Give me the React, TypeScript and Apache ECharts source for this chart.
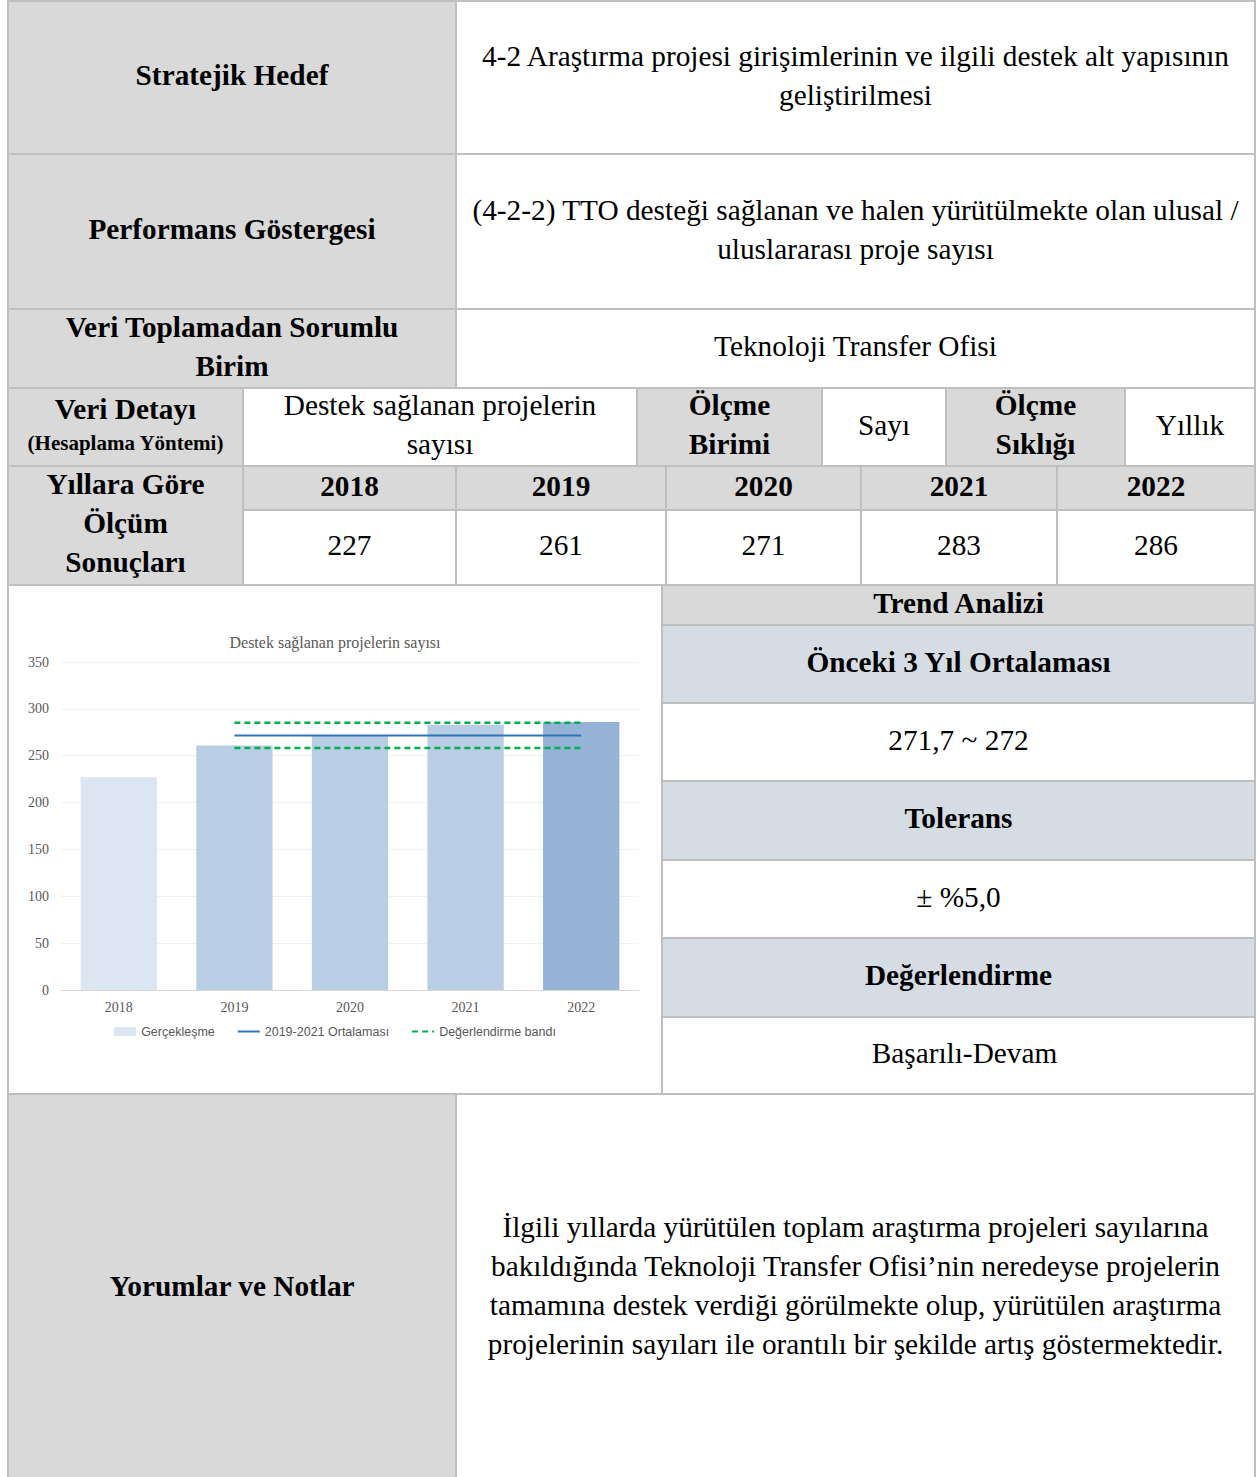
import React, { useEffect, useRef } from "react";
import * as echarts from "echarts";

// ---- Data ----
const years: string[] = ["2018", "2019", "2020", "2021", "2022"];
const realized: number[] = [227, 261, 271, 283, 286];
const average: (number | null)[] = [null, 271.7, 271.7, 271.7, 271.7];
const bandUpper: (number | null)[] = [null, 285.3, 285.3, 285.3, 285.3];
const bandLower: (number | null)[] = [null, 258.1, 258.1, 258.1, 258.1];
const yMin = 0;
const yMax = 350;
const yStep = 50;

const chartTitle = "Destek sağlanan projelerin sayısı";
const seriesNames = ["Gerçekleşme", "2019-2021 Ortalaması", "Değerlendirme bandı"];
const barColors = ["#dce6f2", "#b9cde5", "#b9cde5", "#b9cde5", "#95b3d7"];

const GREY = "#d9d9d9";
const BLUEGREY = "#d6dce4";
const BORDER = "#bfbfbf";
const SERIF = "'Liberation Serif', 'Times New Roman', serif";

type CellProps = {
  x0: number; y0: number; x1: number; y1: number;
  bg?: string; bold?: boolean; size?: number; children?: React.ReactNode;
  lh?: number;
};

function Cell({ x0, y0, x1, y1, bg = "#fff", bold = false, size = 29.3, lh = 39, children }: CellProps) {
  return (
    <div
      style={{
        position: "absolute",
        left: x0 - 1,
        top: y0 - 1,
        width: x1 - x0 + 2,
        height: y1 - y0 + 2,
        boxSizing: "border-box",
        border: `2px solid ${BORDER}`,
        paddingBottom: 4,
        background: bg,
        display: "flex",
        flexDirection: "column",
        alignItems: "center",
        justifyContent: "center",
        textAlign: "center",
        fontFamily: SERIF,
        fontWeight: bold ? 700 : 400,
        fontSize: size,
        lineHeight: `${lh}px`,
        color: "#000",
        whiteSpace: "nowrap",
      }}
    >
      {children}
    </div>
  );
}

function Chart() {
  const ref = useRef<HTMLDivElement>(null);
  useEffect(() => {
    if (!ref.current) return;
    const chart = echarts.init(ref.current, undefined, { renderer: "svg" });
    const axisText = { color: "#595959", fontFamily: SERIF, fontSize: 14 };
    const dash = { color: "#00b050", width: 2.5, type: [6, 4] };
    chart.setOption({
      animation: false,
      backgroundColor: "#ffffff",
      title: {
        text: chartTitle,
        left: "center",
        top: 43,
        textStyle: { fontFamily: SERIF, fontSize: 16, fontWeight: "normal", color: "#595959" },
      },
      grid: { left: 52, right: 22, top: 76, bottom: 103 },
      legend: {
        top: 434,
        left: "center",
        itemGap: 22,
        itemWidth: 22,
        itemHeight: 9,
        textStyle: { color: "#595959", fontFamily: "'Liberation Sans', Arial, sans-serif", fontSize: 12.5 },
        data: [
          { name: seriesNames[0], icon: "rect" },
          { name: seriesNames[1], itemStyle: { opacity: 0 } },
          { name: seriesNames[2], itemStyle: { opacity: 0 } },
        ],
      },
      xAxis: {
        type: "category",
        data: years,
        axisLine: { lineStyle: { color: "#d9d9d9", width: 1 } },
        axisTick: { show: false },
        axisLabel: { ...axisText, margin: 10 },
      },
      yAxis: {
        type: "value",
        min: yMin,
        max: yMax,
        interval: yStep,
        axisLine: { show: false },
        axisTick: { show: false },
        axisLabel: { ...axisText, margin: 12 },
        splitLine: { lineStyle: { color: "#eef2f5", width: 1 } },
      },
      series: [
        {
          type: "bar",
          name: seriesNames[0],
          data: realized.map((v, i) => ({ value: v, itemStyle: { color: barColors[i] } })),
          barWidth: "66%",
          itemStyle: { color: barColors[0] },
        },
        {
          type: "line",
          name: seriesNames[1],
          data: average,
          symbol: "none",
          lineStyle: { color: "#2e75b6", width: 2 },
          itemStyle: { color: "#2e75b6" },
        },
        {
          type: "line",
          name: seriesNames[2],
          data: bandUpper,
          symbol: "none",
          lineStyle: dash,
          itemStyle: { color: "#00b050" },
        },
        {
          type: "line",
          name: seriesNames[2],
          data: bandLower,
          symbol: "none",
          lineStyle: dash,
          itemStyle: { color: "#00b050" },
        },
      ],
    });
    return () => chart.dispose();
  }, []);
  return (
    <div
      ref={ref}
      style={{ position: "absolute", left: 9, top: 586, width: 652, height: 507, zIndex: 2 }}
    />
  );
}

export default function App() {
  return (
    <div
      style={{
        position: "absolute",
        left: 0,
        top: 0,
        width: 1258,
        height: 1477,
        overflow: "hidden",
        background: "#fff",
      }}
    >
      {/* Row 1 */}
      <Cell x0={8} y0={1} x1={456} y1={154} bg={GREY} bold>Stratejik Hedef</Cell>
      <Cell x0={456} y0={1} x1={1255} y1={154}>
        <div>4-2 Araştırma projesi girişimlerinin ve ilgili destek alt yapısının</div>
        <div>geliştirilmesi</div>
      </Cell>
      {/* Row 2 */}
      <Cell x0={8} y0={154} x1={456} y1={309} bg={GREY} bold>Performans Göstergesi</Cell>
      <Cell x0={456} y0={154} x1={1255} y1={309}>
        <div>(4-2-2) TTO desteği sağlanan ve halen yürütülmekte olan ulusal /</div>
        <div>uluslararası proje sayısı</div>
      </Cell>
      {/* Row 3 */}
      <Cell x0={8} y0={309} x1={456} y1={388} bg={GREY} bold>
        <div>Veri Toplamadan Sorumlu</div>
        <div>Birim</div>
      </Cell>
      <Cell x0={456} y0={309} x1={1255} y1={388}>Teknoloji Transfer Ofisi</Cell>
      {/* Row 4 */}
      <Cell x0={8} y0={388} x1={243} y1={466} bg={GREY} bold>
        <div style={{ lineHeight: "36px" }}>Veri Detayı</div>
        <div style={{ fontSize: 21, lineHeight: "32px" }}>(Hesaplama Yöntemi)</div>
      </Cell>
      <Cell x0={243} y0={388} x1={637} y1={466}>
        <div>Destek sağlanan projelerin</div>
        <div>sayısı</div>
      </Cell>
      <Cell x0={637} y0={388} x1={822} y1={466} bg={GREY} bold>
        <div>Ölçme</div>
        <div>Birimi</div>
      </Cell>
      <Cell x0={822} y0={388} x1={946} y1={466}>Sayı</Cell>
      <Cell x0={946} y0={388} x1={1125} y1={466} bg={GREY} bold>
        <div>Ölçme</div>
        <div>Sıklığı</div>
      </Cell>
      <Cell x0={1125} y0={388} x1={1255} y1={466}>Yıllık</Cell>
      {/* Row 5-6 */}
      <Cell x0={8} y0={466} x1={243} y1={585} bg={GREY} bold>
        <div>Yıllara Göre</div>
        <div>Ölçüm</div>
        <div>Sonuçları</div>
      </Cell>
      <Cell x0={243} y0={466} x1={456} y1={510} bg={GREY} bold>{years[0]}</Cell>
      <Cell x0={456} y0={466} x1={666} y1={510} bg={GREY} bold>{years[1]}</Cell>
      <Cell x0={666} y0={466} x1={861} y1={510} bg={GREY} bold>{years[2]}</Cell>
      <Cell x0={861} y0={466} x1={1057} y1={510} bg={GREY} bold>{years[3]}</Cell>
      <Cell x0={1057} y0={466} x1={1255} y1={510} bg={GREY} bold>{years[4]}</Cell>
      <Cell x0={243} y0={510} x1={456} y1={585}>{realized[0]}</Cell>
      <Cell x0={456} y0={510} x1={666} y1={585}>{realized[1]}</Cell>
      <Cell x0={666} y0={510} x1={861} y1={585}>{realized[2]}</Cell>
      <Cell x0={861} y0={510} x1={1057} y1={585}>{realized[3]}</Cell>
      <Cell x0={1057} y0={510} x1={1255} y1={585}>{realized[4]}</Cell>
      {/* Row 7 */}
      <Cell x0={8} y0={585} x1={662} y1={1094} />
      <Chart />
      <Cell x0={662} y0={585} x1={1255} y1={625} bg={GREY} bold>Trend Analizi</Cell>
      <Cell x0={662} y0={625} x1={1255} y1={703} bg={BLUEGREY} bold>Önceki 3 Yıl Ortalaması</Cell>
      <Cell x0={662} y0={703} x1={1255} y1={781}>271,7 ~ 272</Cell>
      <Cell x0={662} y0={781} x1={1255} y1={860} bg={BLUEGREY} bold>Tolerans</Cell>
      <Cell x0={662} y0={860} x1={1255} y1={938}>± %5,0</Cell>
      <Cell x0={662} y0={938} x1={1255} y1={1017} bg={BLUEGREY} bold>Değerlendirme</Cell>
      <Cell x0={662} y0={1017} x1={1255} y1={1094}>
        <div style={{ paddingLeft: 12 }}>Başarılı-Devam</div>
      </Cell>
      {/* Row 8 */}
      <Cell x0={8} y0={1094} x1={456} y1={1482} bg={GREY} bold>Yorumlar ve Notlar</Cell>
      <Cell x0={456} y0={1094} x1={1255} y1={1482}>
        <div>İlgili yıllarda yürütülen toplam araştırma projeleri sayılarına</div>
        <div>bakıldığında Teknoloji Transfer Ofisi’nin neredeyse projelerin</div>
        <div>tamamına destek verdiği görülmekte olup, yürütülen araştırma</div>
        <div>projelerinin sayıları ile orantılı bir şekilde artış göstermektedir.</div>
      </Cell>
    </div>
  );
}
